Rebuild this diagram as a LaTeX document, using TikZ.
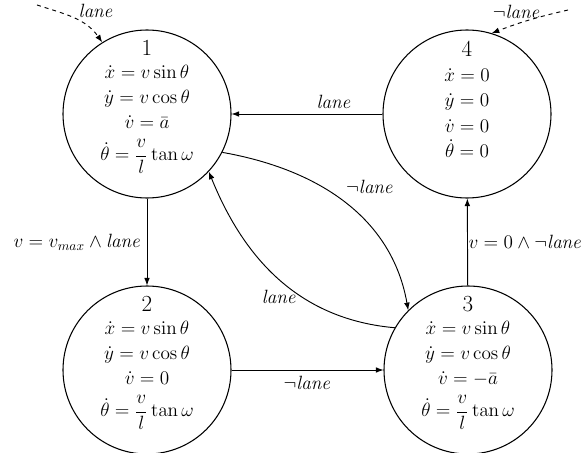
\documentclass[tikz,border=0pt,12pt]{standalone}
\usepackage{amsmath,amssymb}
\usepackage{xcolor}
\usepackage{tikz}
\usetikzlibrary{positioning,arrows.meta}

\begin{document}
\begin{tikzpicture}[
    x=0.75pt, y=-0.75pt,
    every node/.style={font=\large},
    state/.style={draw, circle, minimum size=126pt, inner sep=0pt, line width=0.8pt},
    eqs/.style={align=center, inner sep=0pt},
    arrow/.style={-{Latex[length=2mm]}, line width=0.7pt},
    init/.style={arrow, dashed}
]
\useasboundingbox (0,0) rectangle (582,453);

\node[state] (s1) at (147,114) {};
\node[state] (s4) at (467,114) {};
\node[state] (s2) at (147,370) {};
\node[state] (s3) at (468,370) {};

\node[eqs] (e1) at (147,107) {{\Large 1}\\[-1pt] $\dot{x} = v\sin\theta$\\[1pt] $\dot{y} = v\cos\theta$\\[1pt] $\dot{v} = \bar{a}$\\[6pt] $\dot{\theta} = \dfrac{v}{l}\tan\omega$};
\node[eqs] (e4) at (467,99) {{\Large 4}\\[1pt] $\dot{x} = 0$\\[1pt] $\dot{y} = 0$\\[1pt] $\dot{v} = 0$\\[1pt] $\dot{\theta} = 0$};
\node[eqs] (e2) at (147,363) {{\Large 2}\\[-1pt] $\dot{x} = v\sin\theta$\\[1pt] $\dot{y} = v\cos\theta$\\[1pt] $\dot{v} = 0$\\[6pt] $\dot{\theta} = \dfrac{v}{l}\tan\omega$};
\node[eqs] (e3) at (468,363) {{\Large 3}\\[-1pt] $\dot{x} = v\sin\theta$\\[1pt] $\dot{y} = v\cos\theta$\\[1pt] $\dot{v} = -\bar{a}$\\[6pt] $\dot{\theta} = \dfrac{v}{l}\tan\omega$};

\coordinate (i1) at (37,5);
\coordinate (i4) at (568,10);

\draw[init] (i1) to[out=-18, in=125] node[pos=0.55, anchor=south west, inner sep=1pt] {$\mathit{lane}$} (s1.122);
\draw[init] (i4) to[bend right=4] node[pos=0.68, anchor=south, inner sep=0pt, yshift=3.5pt] {$\neg\mathit{lane}$} (s4.73);

\draw[arrow] (s1) -- node[left] {$v = v_{max} \wedge \mathit{lane}$} (s2);
\draw[arrow] (s4) -- node[above, pos=0.32] {$\mathit{lane}$} (s1);
\draw[arrow] (s3) -- node[right, inner sep=0.5pt] {$v = 0 \wedge \neg\mathit{lane}$} (s4);
\draw[arrow] (s2) -- node[below] {$\neg\mathit{lane}$} (s3);
\draw[arrow] (s1.-27) to[out=-10, in=100] node[above right, pos=0.48] {$\neg\mathit{lane}$} (s3.135);
\draw[arrow] (s3.150) to[out=175, in=-68] node[left, pos=0.38] {$\mathit{lane}$} (s1.-43);

\end{tikzpicture}
\end{document}
